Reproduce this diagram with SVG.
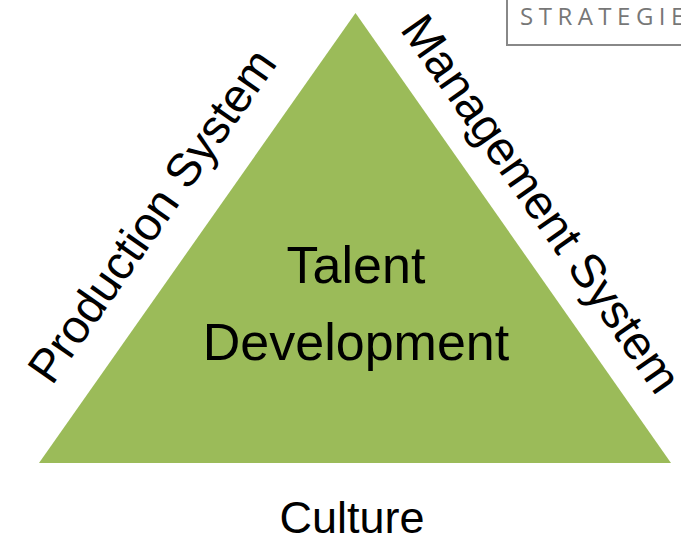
<svg xmlns="http://www.w3.org/2000/svg" width="681" height="539" viewBox="0 0 681 539">
<style>
.lbl{font-family:"Liberation Sans",Arial,sans-serif;fill:#000;text-anchor:middle}
.tag{font-family:"Open Sans","Liberation Sans",sans-serif;fill:#777;font-size:24px;letter-spacing:5.5px}
</style>
<rect width="681" height="539" fill="#fff"/>
<g id="strategie">
<rect x="507" y="-5" width="200" height="50" fill="none" stroke="#888" stroke-width="2"/>
<text class="tag" x="520" y="25">STRATEGIE</text>
</g>
<g id="triangle">
<polygon points="355.5,13 39,463 671,463" fill="#9BBB59"/>
<text class="lbl" x="356" y="283" font-size="52">Talent</text>
<text class="lbl" x="356" y="360" font-size="52">Development</text>
</g>
<g id="production">
<text class="lbl" font-size="47" transform="translate(165,225) rotate(-55)">Production System</text>
</g>
<g id="management">
<text class="lbl" font-size="47.5" transform="translate(528,213) rotate(55)">Management System</text>
</g>
<g id="culture">
<text class="lbl" x="352" y="533" font-size="45">Culture</text>
</g>
<g id="connectors"/>
</svg>
